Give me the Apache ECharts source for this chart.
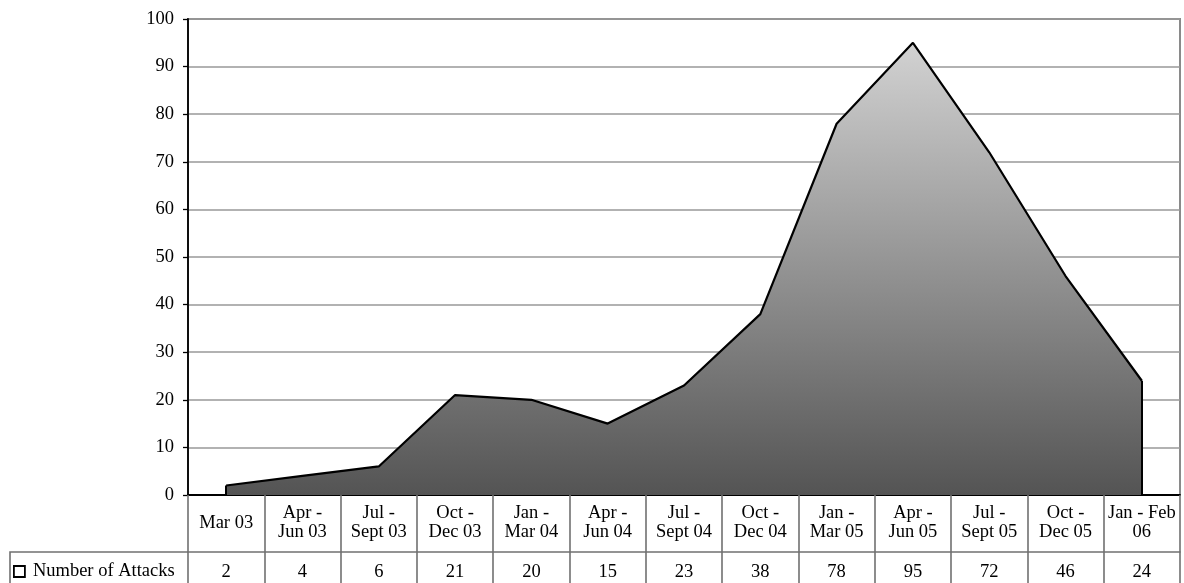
<!DOCTYPE html>
<html>
<head>
<meta charset="utf-8">
<script src="https://cdn.jsdelivr.net/npm/echarts@6/dist/echarts.min.js"></script>
<style>
  html, body { margin: 0; padding: 0; background: #fff; }
  #chart { width: 1184px; height: 583px; }
</style>
</head>
<body>
<div id="chart"></div>
<script>
// Quarterly periods shown along the bottom of the chart
const periods = [
  'Mar 03', 'Apr -\nJun 03', 'Jul -\nSept 03', 'Oct -\nDec 03', 'Jan -\nMar 04',
  'Apr -\nJun 04', 'Jul -\nSept 04', 'Oct -\nDec 04', 'Jan -\nMar 05', 'Apr -\nJun 05',
  'Jul -\nSept 05', 'Oct -\nDec 05', 'Jan - Feb\n06'
];
// Number of attacks per period
const attacks = [2, 4, 6, 21, 20, 15, 23, 38, 78, 95, 72, 46, 24];
const seriesName = 'Number of Attacks';
const yTicks = { min: 0, max: 100, step: 10 };

const FONT = 'Liberation Serif, Times New Roman, serif';
const FONT_SIZE = 18.5;
const GRID_LINE = '#707070';

const chart = echarts.init(document.getElementById('chart'), null, { renderer: 'canvas' });

// closing vertical edges of the filled area, from the baseline up to the end values
const lastIdx = attacks.length - 1;
const edgeLines = [
  [{ coord: [0, 0] }, { coord: [0, attacks[0]] }],
  [{ coord: [lastIdx, 0] }, { coord: [lastIdx, attacks[lastIdx]] }]
];

chart.setOption({
  animation: false,
  backgroundColor: '#ffffff',
  textStyle: { fontFamily: FONT, color: '#000' },
  grid: {
    left: 188, right: 4, top: 19, bottom: 88,
    show: true, borderColor: '#8a8a8a', borderWidth: 2, backgroundColor: 'transparent'
  },
  legend: {
    left: 13, top: 562, padding: 0,
    itemWidth: 11, itemHeight: 11,
    data: [{
      name: seriesName, icon: 'rect',
      itemStyle: { color: '#ffffff', borderColor: '#000', borderWidth: 1.8 }
    }],
    textStyle: { fontFamily: FONT, fontSize: FONT_SIZE, color: '#000', padding: [0, 0, 0, 3] }
  },
  xAxis: [
    {
      type: 'category',
      data: periods,
      boundaryGap: true,
      axisLine: { show: true, lineStyle: { color: '#000', width: 1.8 } },
      axisTick: { show: true, length: 57, lineStyle: { color: GRID_LINE, width: 1.6 } },
      axisLabel: {
        interval: 0, margin: 28, verticalAlign: 'middle',
        fontFamily: FONT, fontSize: FONT_SIZE, lineHeight: 19, color: '#000'
      },
      splitLine: { show: false }
    },
    {
      type: 'category',
      position: 'bottom',
      offset: 57,
      data: attacks.map(String),
      boundaryGap: true,
      axisLine: { show: true, lineStyle: { color: GRID_LINE, width: 1.6 } },
      axisTick: { show: true, length: 40, lineStyle: { color: GRID_LINE, width: 1.6 } },
      axisLabel: {
        interval: 0, margin: 20, verticalAlign: 'middle',
        fontFamily: FONT, fontSize: FONT_SIZE, color: '#000'
      },
      splitLine: { show: false }
    }
  ],
  yAxis: {
    type: 'value',
    min: yTicks.min, max: yTicks.max, interval: yTicks.step,
    axisLine: { show: true, lineStyle: { color: '#000', width: 1.8 } },
    axisTick: { show: true, length: 5, lineStyle: { color: '#000', width: 1.3 } },
    axisLabel: { margin: 14, fontFamily: FONT, fontSize: FONT_SIZE, color: '#000' },
    splitLine: { show: true, lineStyle: { color: '#999999', width: 1.5 } }
  },
  // left cell of the data table holding the series legend
  graphic: [
    {
      type: 'polyline', silent: true, z: 5,
      shape: { points: [[10, 600], [10, 552], [188, 552]] },
      style: { stroke: GRID_LINE, lineWidth: 1.6, fill: null }
    }
  ],
  series: [{
    name: seriesName,
    type: 'line',
    xAxisIndex: 0,
    data: attacks,
    symbol: 'none',
    lineStyle: { color: '#000', width: 2.2 },
    itemStyle: { color: '#ffffff', borderColor: '#000' },
    areaStyle: {
      opacity: 1,
      color: new echarts.graphic.LinearGradient(0, 0, 0, 1, [
        { offset: 0, color: '#d2d2d2' },
        { offset: 1, color: '#545454' }
      ])
    },
    markLine: {
      silent: true,
      symbol: ['none', 'none'],
      label: { show: false },
      lineStyle: { color: '#000', width: 2, type: 'solid' },
      data: edgeLines
    }
  }]
});
</script>
</body>
</html>
